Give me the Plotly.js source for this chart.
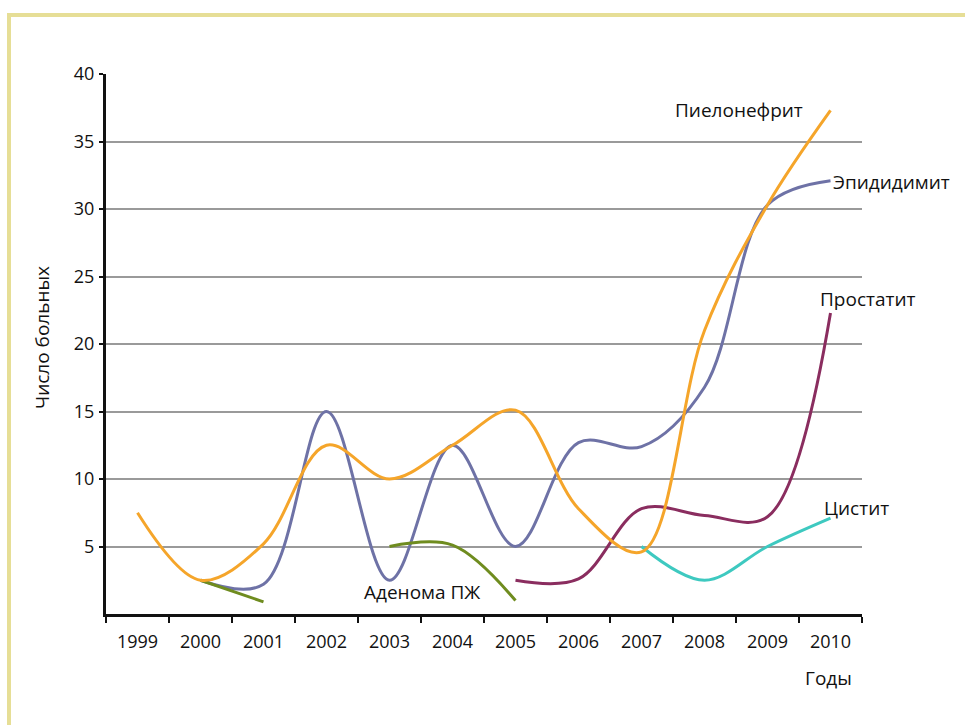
<!DOCTYPE html>
<html>
<head>
<meta charset="utf-8">
<script src="https://cdn.plot.ly/plotly-3.0.1.min.js"></script>
<style>
  html, body { margin: 0; padding: 0; background: #ffffff; }
  #chart { width: 965px; height: 725px; }
</style>
</head>
<body>
<div id="chart"></div>
<script>
// ---- data ----
const years = ["1999","2000","2001","2002","2003","2004","2005","2006","2007","2008","2009","2010"];
const pyelonephritis = [7.5, 2.5, 5.2, 12.5, 10.0, 12.5, 15.1, 7.8, 4.6, 21.0, 30.3, 37.3];
const epididymitis   = [null, 2.5, 2.2, 15.0, 2.5, 12.5, 5.0, 12.7, 12.4, 16.8, 30.3, 32.1];
const prostatitis    = [null, null, null, null, null, null, 2.5, 2.6, 7.8, 7.3, 7.2, 22.3];
const cystitis       = [null, null, null, null, null, null, null, null, 5.0, 2.5, 5.0, 7.1];
const adenoma        = [null, 2.5, 0.9, null, 5.0, 5.1, 1.0, null, null, null, null, null];
const yTicks = [5, 10, 15, 20, 25, 30, 35, 40];
const seriesNames = ["Пиелонефрит", "Эпидидимит", "Простатит", "Цистит", "Аденома ПЖ"];

// ---- plot geometry helpers (pixel -> paper) ----
const L = 106, R = 862, T = 74, B = 614;
const px = x => (x - L) / (R - L);
const py = y => (B - y) / (B - T);

const FONT = "Open Sans, Noto Sans, sans-serif";

function tr(y, color, name) {
  return {
    type: "scatter", mode: "lines", x: years, y: y, name: name,
    connectgaps: false,
    line: { color: color, width: 3, shape: "spline", smoothing: 1 },
    hoverinfo: "skip"
  };
}

const data = [
  tr(epididymitis, "#6e72a6", seriesNames[1]),
  tr(adenoma, "#6f8c1f", seriesNames[4]),
  tr(prostatitis, "#8a2d5f", seriesNames[2]),
  tr(cystitis, "#3ec9c0", seriesNames[3]),
  tr(pyelonephritis, "#f5a52a", seriesNames[0])
];

function lab(text, x, y) {
  return { text: text, xref: "paper", yref: "paper", x: px(x), y: py(y),
           xanchor: "center", yanchor: "middle", showarrow: false,
           font: { family: FONT, size: 19, color: "#111" } };
}

const layout = {
  width: 965, height: 725,
  paper_bgcolor: "#ffffff", plot_bgcolor: "#ffffff",
  margin: { l: L, r: 965 - R, t: T, b: 725 - B, pad: 0 },
  showlegend: false,
  font: { family: FONT, size: 18, color: "#111" },
  xaxis: {
    type: "category",
    range: [-0.5, 11.5],
    tickson: "boundaries",
    ticks: "outside", ticklen: 6, tickwidth: 2, tickcolor: "#111",
    ticklabelstandoff: 9,
    showline: true, linecolor: "#111", linewidth: 3,
    showgrid: false, zeroline: false,
    tickfont: { family: FONT, size: 18, color: "#111" },
    fixedrange: true
  },
  yaxis: {
    range: [0, 40],
    tickvals: yTicks,
    ticks: "outside", ticklen: 4, tickwidth: 2, tickcolor: "#111",
    ticklabelstandoff: 1,
    showline: true, linecolor: "#111", linewidth: 3,
    showgrid: true, gridcolor: "#9a9a9a", gridwidth: 2,
    zeroline: false,
    tickfont: { family: FONT, size: 18, color: "#111" },
    fixedrange: true
  },
  annotations: [
    lab(seriesNames[0], 739, 110),
    lab(seriesNames[1], 891, 182),
    lab(seriesNames[2], 868, 299),
    lab(seriesNames[3], 856, 508),
    lab(seriesNames[4], 422, 592),
    lab("Годы", 828, 678),
    { text: "Число больных", xref: "paper", yref: "paper", x: px(42), y: py(338),
      xanchor: "center", yanchor: "middle", showarrow: false, textangle: -90,
      font: { family: FONT, size: 19, color: "#111" } }
  ],
  shapes: [
    { type: "line", xref: "paper", yref: "paper", x0: px(9), x1: px(9), y0: py(13), y1: py(725),
      line: { color: "#e6de96", width: 4 } },
    { type: "line", xref: "paper", yref: "paper", x0: px(7), x1: px(965), y0: py(15), y1: py(15),
      line: { color: "#e6de96", width: 4 } }
  ]
};

Plotly.newPlot("chart", data, layout, { displayModeBar: false, staticPlot: true });
</script>
</body>
</html>
